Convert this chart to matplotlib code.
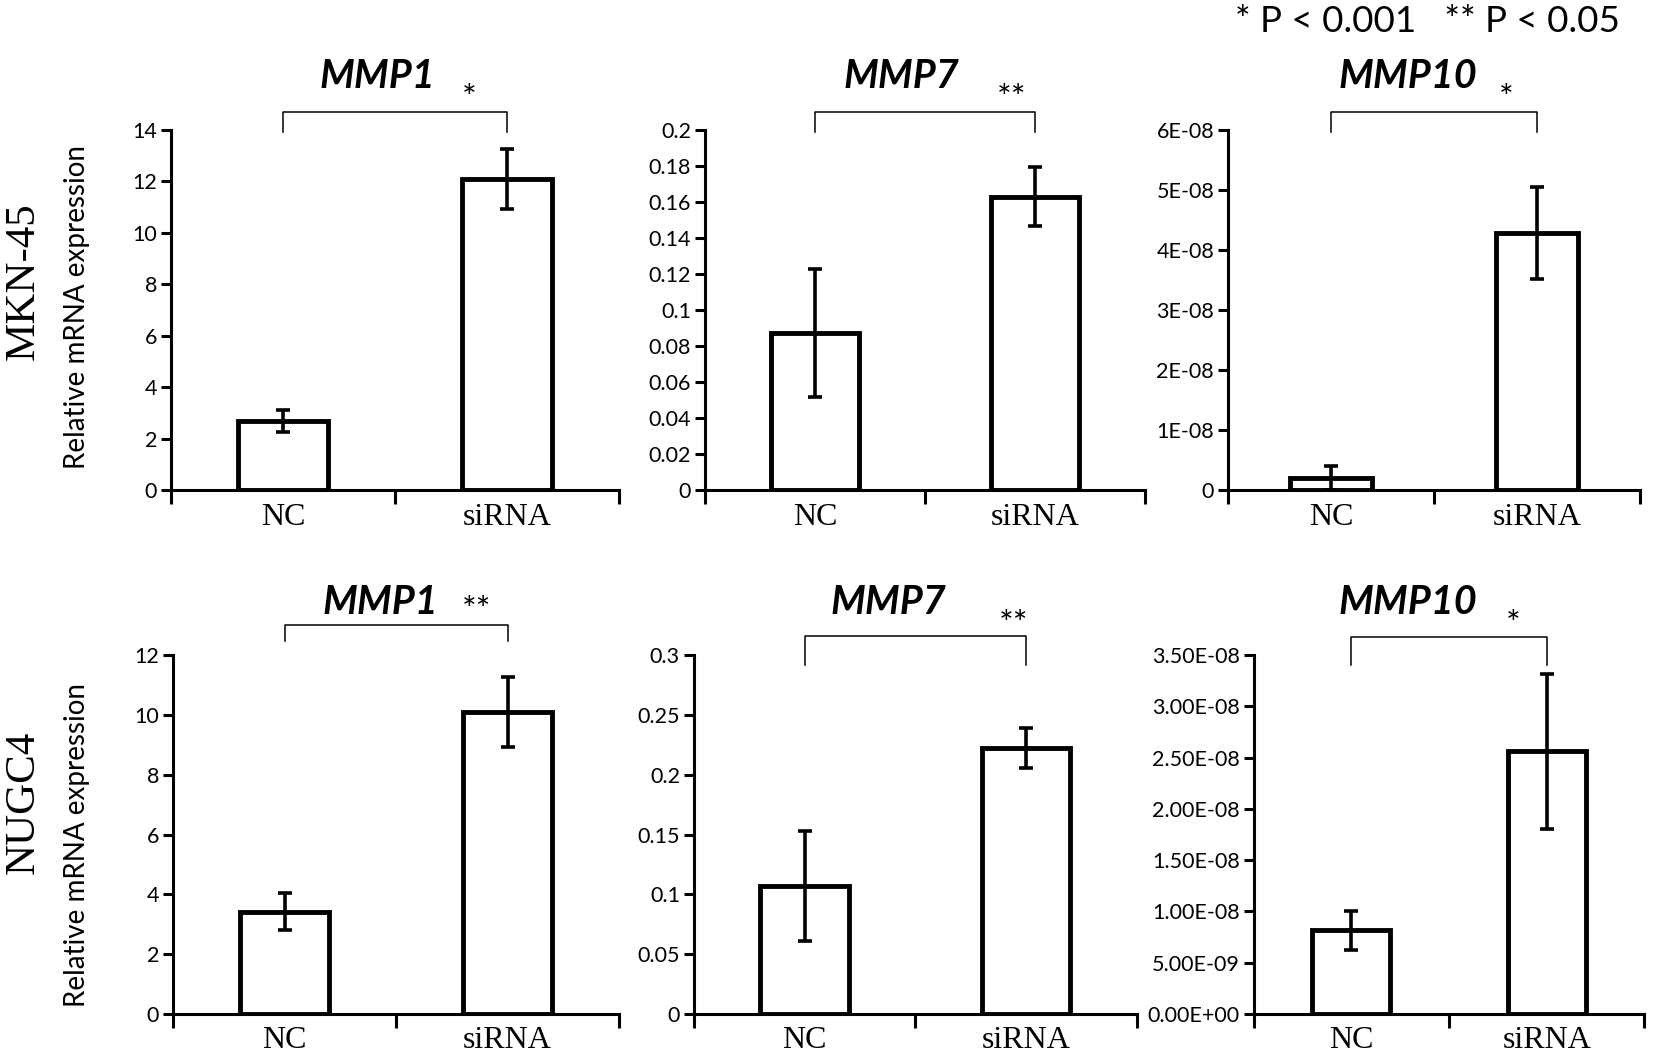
from matplotlib import pyplot as plt

groups = ["NC", "siRNA"]
genes = ["MMP1", "MMP7", "MMP10"]
cell_lines = ["MKN-45", "NUGC4"]

# MKN-45
mkn_mmp1 = [2.70, 12.09]
mkn_mmp1_err = [0.43, 1.16]
mkn_mmp7 = [0.087, 0.163]
mkn_mmp7_err = [0.0355, 0.0165]
mkn_mmp10 = [2.0e-9, 4.28e-8]
mkn_mmp10_err = [2.0e-9, 0.77e-8]

# NUGC4
nugc_mmp1 = [3.42, 10.09]
nugc_mmp1_err = [0.62, 1.17]
nugc_mmp7 = [0.107, 0.2225]
nugc_mmp7_err = [0.0457, 0.0165]
nugc_mmp10 = [8.16e-9, 2.56e-8]
nugc_mmp10_err = [1.9e-9, 0.76e-8]

mkn_stars = ["*", "**", "*"]
nugc_stars = ["**", "**", "*"]

ticks_mmp1_a = [0, 2, 4, 6, 8, 10, 12, 14]
labels_mmp1_a = ["0", "2", "4", "6", "8", "10", "12", "14"]
ticks_mmp7_a = [0, 0.02, 0.04, 0.06, 0.08, 0.1, 0.12, 0.14, 0.16, 0.18, 0.2]
labels_mmp7_a = ["0", "0.02", "0.04", "0.06", "0.08", "0.1", "0.12", "0.14", "0.16", "0.18", "0.2"]
ticks_mmp10_a = [0, 1e-8, 2e-8, 3e-8, 4e-8, 5e-8, 6e-8]
labels_mmp10_a = ["0", "1E-08", "2E-08", "3E-08", "4E-08", "5E-08", "6E-08"]

ticks_mmp1_b = [0, 2, 4, 6, 8, 10, 12]
labels_mmp1_b = ["0", "2", "4", "6", "8", "10", "12"]
ticks_mmp7_b = [0, 0.05, 0.1, 0.15, 0.2, 0.25, 0.3]
labels_mmp7_b = ["0", "0.05", "0.1", "0.15", "0.2", "0.25", "0.3"]
ticks_mmp10_b = [0, 5e-9, 1e-8, 1.5e-8, 2e-8, 2.5e-8, 3e-8, 3.5e-8]
labels_mmp10_b = ["0.00E+00", "5.00E-09", "1.00E-08", "1.50E-08", "2.00E-08",
                  "2.50E-08", "3.00E-08", "3.50E-08"]

SANS = "Lato"
SERIF = "Liberation Serif"


def draw_panel(ax, values, errs, ticks, tick_labels, stars, br_top, br_bot, star_x, star_y):
    x = range(len(groups))
    ax.bar(x, values, width=0.4, color="white", edgecolor="black", linewidth=3.5, zorder=2)
    ax.errorbar(x, values, yerr=errs, fmt="none", ecolor="black", elinewidth=2.6,
                capsize=5, capthick=2.6, zorder=3)
    ax.set_xlim(-0.5, 1.5)
    ax.set_ylim(ticks[0], ticks[-1])
    ax.set_yticks(ticks)
    ax.set_yticklabels(tick_labels, fontfamily=SANS, fontsize=15.5)
    ax.set_xticks([-0.5, 0.5, 1.5])
    ax.set_xticklabels([])
    ax.set_xticks([0, 1], minor=True)
    ax.set_xticklabels(groups, minor=True, fontfamily=SERIF, fontsize=23)
    ax.tick_params(axis="x", which="major", direction="out", length=10, width=2.2)
    ax.tick_params(axis="x", which="minor", length=0, pad=9)
    ax.tick_params(axis="y", direction="out", length=7, width=2.2, pad=3)
    for s in ["top", "right"]:
        ax.spines[s].set_visible(False)
    for s in ["left", "bottom"]:
        ax.spines[s].set_linewidth(2.2)
    tr = ax.get_xaxis_transform()
    ax.plot([0, 0, 1, 1], [br_bot, br_top, br_top, br_bot], color="black",
            linewidth=1.1, transform=tr, clip_on=False)
    ax.text(star_x, star_y, stars, transform=tr, ha="center", va="center",
            fontfamily=SANS, fontsize=25)


fig = plt.figure(figsize=(16.56, 10.62), dpi=100)

top_axes = [
    fig.add_axes([0.1033, 0.5386, 0.2705, 0.339]),
    fig.add_axes([0.4257, 0.5386, 0.2657, 0.339]),
    fig.add_axes([0.7415, 0.5386, 0.2488, 0.339]),
]
bottom_axes = [
    fig.add_axes([0.1045, 0.0452, 0.2693, 0.338]),
    fig.add_axes([0.4190, 0.0452, 0.2675, 0.338]),
    fig.add_axes([0.7570, 0.0452, 0.2360, 0.338]),
]

draw_panel(top_axes[0], mkn_mmp1, mkn_mmp1_err, ticks_mmp1_a, labels_mmp1_a, mkn_stars[0],
           1.05, 0.994, 0.83, 1.085)
draw_panel(top_axes[1], mkn_mmp7, mkn_mmp7_err, ticks_mmp7_a, labels_mmp7_a, mkn_stars[1],
           1.05, 0.994, 0.895, 1.085)
draw_panel(top_axes[2], mkn_mmp10, mkn_mmp10_err, ticks_mmp10_a, labels_mmp10_a, mkn_stars[2],
           1.05, 0.994, 0.85, 1.085)
draw_panel(bottom_axes[0], nugc_mmp1, nugc_mmp1_err, ticks_mmp1_b, labels_mmp1_b, nugc_stars[0],
           1.084, 1.039, 0.863, 1.122)
draw_panel(bottom_axes[1], nugc_mmp7, nugc_mmp7_err, ticks_mmp7_b, labels_mmp7_b, nugc_stars[1],
           1.053, 0.972, 0.945, 1.085)
draw_panel(bottom_axes[2], nugc_mmp10, nugc_mmp10_err, ticks_mmp10_b, labels_mmp10_b, nugc_stars[2],
           1.05, 0.972, 0.83, 1.085)

# gene titles (figure coords)
title_x = [377 / 1656, 901 / 1656, 1408 / 1656]
for gx, g in zip(title_x, genes):
    fig.text(gx, 1 - 77 / 1062, g, ha="center", va="center", fontfamily=SANS,
             fontsize=28.5, fontweight="bold", fontstyle="italic")
title_x_b = [380 / 1656, 888 / 1656, 1408 / 1656]
for gx, g in zip(title_x_b, genes):
    fig.text(gx, 1 - 602 / 1062, g, ha="center", va="center", fontfamily=SANS,
             fontsize=28.5, fontweight="bold", fontstyle="italic")

# row labels
fig.text(24 / 1656, 1 - 281 / 1062, cell_lines[0], rotation=90, ha="center", va="center",
         fontfamily=SERIF, fontsize=31)
fig.text(24 / 1656, 1 - 802 / 1062, cell_lines[1], rotation=90, ha="center", va="center",
         fontfamily=SERIF, fontsize=31)
fig.text(77 / 1656, 1 - 307 / 1062, "Relative mRNA expression", rotation=90, ha="center",
         va="center", fontfamily=SANS, fontsize=20)
fig.text(77 / 1656, 1 - 845 / 1062, "Relative mRNA expression", rotation=90, ha="center",
         va="center", fontfamily=SANS, fontsize=20)

fig.text(1620 / 1656, 1 - 22 / 1062, "* P < 0.001   ** P < 0.05", ha="right", va="center",
         fontfamily=SANS, fontsize=26.5)

fig.savefig("out.png", dpi=100)
